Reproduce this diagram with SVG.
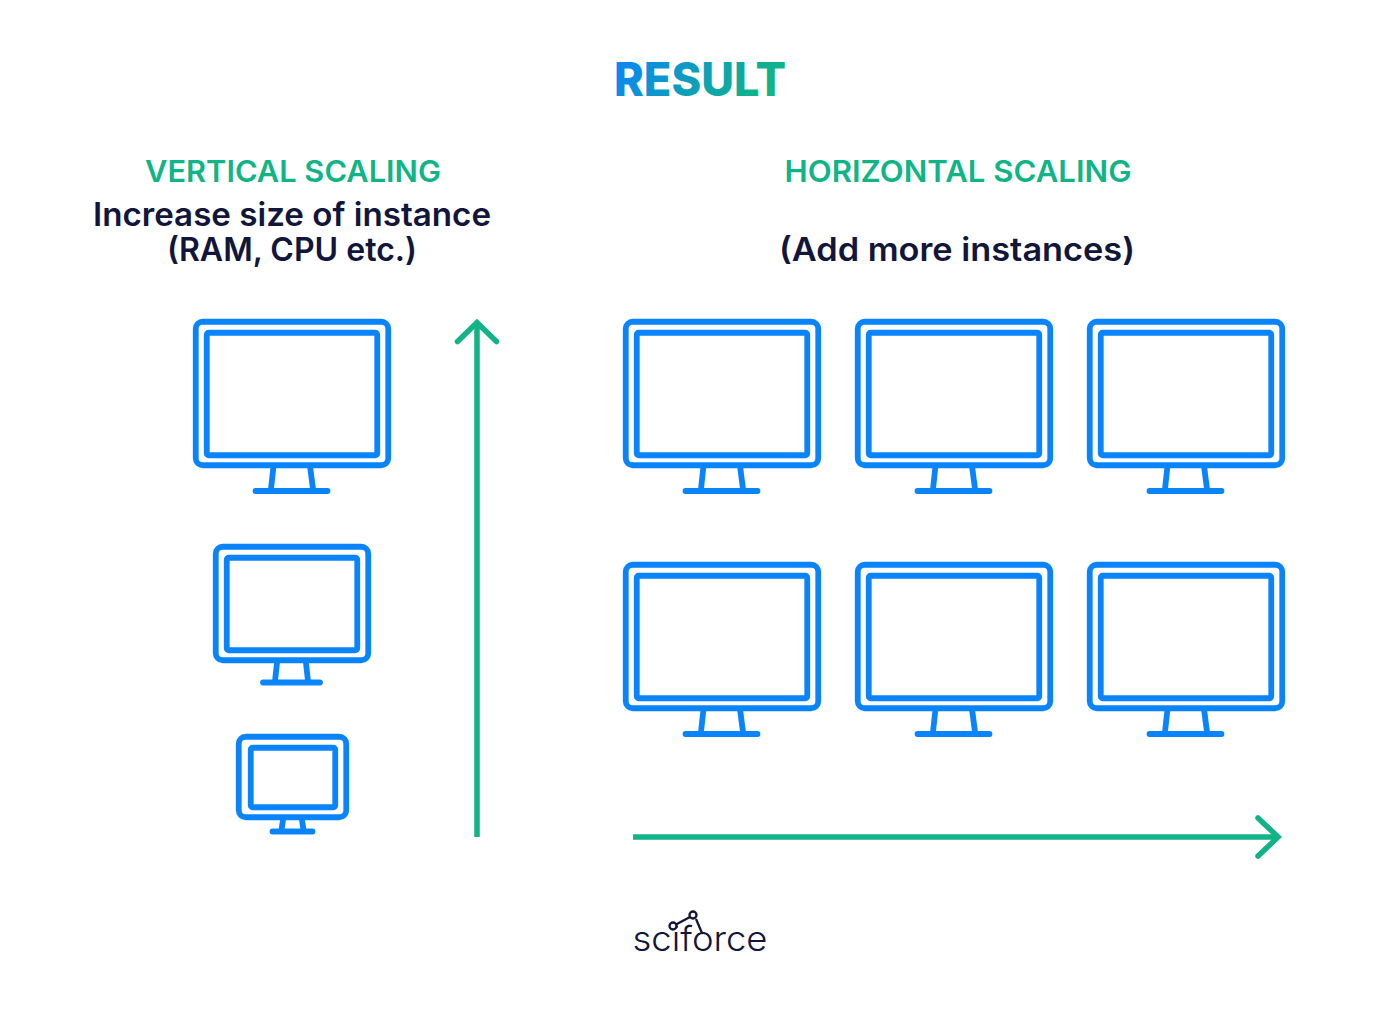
<svg xmlns="http://www.w3.org/2000/svg" width="1400" height="1015" viewBox="0 0 1400 1015">
<style>
text{font-family:"Inter","Noto Sans","Liberation Sans",sans-serif;text-anchor:middle}
.h{font-size:30px;font-weight:600;fill:#10b486}
.b{font-size:32px;font-weight:600;fill:#12163a}
.m{fill:#fff;stroke:#0a84fb;stroke-width:5.8;stroke-linejoin:round;stroke-linecap:round}
.m .frame{rx:7px}
.m .screen{rx:2px}
.m .foot{fill:none}
.arrow{fill:none;stroke:#10b486;stroke-width:5.5;stroke-linecap:butt;stroke-linejoin:miter}
.tip{stroke-linecap:round}
.link{fill:none;stroke:#12163a;stroke-width:2.3}
.node{fill:#fff;stroke:#12163a;stroke-width:2.3}
</style>
<defs>
<linearGradient id="titleFill" x1="0" y1="0" x2="1" y2="0.25"><stop offset="0" stop-color="#0a84fb"/><stop offset="1" stop-color="#10b486"/></linearGradient>
<g id="bigMonitor" class="m">
<path class="foot" d="M-18.500 147L-21 170M18 147L21 170M-36.500 172H35.500"/>
<rect class="frame" x="-96.250" y="2.750" width="192.500" height="143.500"/>
<rect class="screen" x="-85.250" y="13.750" width="170.500" height="122.500"/>
</g>
</defs>
<text id="title" x="700" y="96" font-size="47" font-weight="800" fill="url(#titleFill)" textLength="172" lengthAdjust="spacingAndGlyphs">RESULT</text>
<text class="h" x="293" y="182" textLength="296" lengthAdjust="spacingAndGlyphs">VERTICAL SCALING</text>
<text class="h" x="958" y="182" textLength="347" lengthAdjust="spacingAndGlyphs">HORIZONTAL SCALING</text>
<text class="b" x="292" y="226" textLength="398" lengthAdjust="spacingAndGlyphs">Increase size of instance</text>
<text class="b" x="292" y="261" textLength="250" lengthAdjust="spacingAndGlyphs">(RAM, CPU etc.)</text>
<text class="b" x="957" y="261" textLength="356" lengthAdjust="spacingAndGlyphs">(Add more instances)</text>
<g id="connectors">
<path class="arrow" d="M477 837V323"/>
<path class="arrow tip" d="M457.500 341.500L477 322.500L496.500 341.500"/>
<path class="arrow" d="M633 837H1277"/>
<path class="arrow tip" d="M1258 818L1278 837L1258 856"/>
</g>
<g id="v-large"><use href="#bigMonitor" x="292" y="319"/></g>
<g id="v-medium" class="m">
<path class="foot" d="M277 663L275 681M306 663L308 681M263 682.500H320"/>
<rect class="frame" x="215.750" y="546.750" width="152.500" height="113.500"/>
<rect class="screen" x="226.750" y="557.750" width="130.500" height="92.500"/>
</g>
<g id="v-small" class="m">
<path class="foot" d="M283 820L281.500 830M302 820L303.500 830M272.500 831.500H312.500"/>
<rect class="frame" x="238.750" y="736.750" width="107.500" height="80.500"/>
<rect class="screen" x="250.750" y="747.750" width="84.500" height="59.500"/>
</g>
<g id="h-1"><use href="#bigMonitor" x="722" y="319"/></g>
<g id="h-2"><use href="#bigMonitor" x="954" y="319"/></g>
<g id="h-3"><use href="#bigMonitor" x="1186" y="319"/></g>
<g id="h-4"><use href="#bigMonitor" x="722" y="562"/></g>
<g id="h-5"><use href="#bigMonitor" x="954" y="562"/></g>
<g id="h-6"><use href="#bigMonitor" x="1186" y="562"/></g>
<g id="logo">
<text x="700" y="950.500" font-size="35" font-weight="300" fill="#12163a" textLength="135" lengthAdjust="spacingAndGlyphs">sciforce</text>
<path class="link" d="M676 924.500L690 917M696 919L702 933"/>
<circle class="node" cx="673" cy="926" r="3.500"/>
<circle class="node" cx="693" cy="915" r="3.500"/>
</g>
</svg>
